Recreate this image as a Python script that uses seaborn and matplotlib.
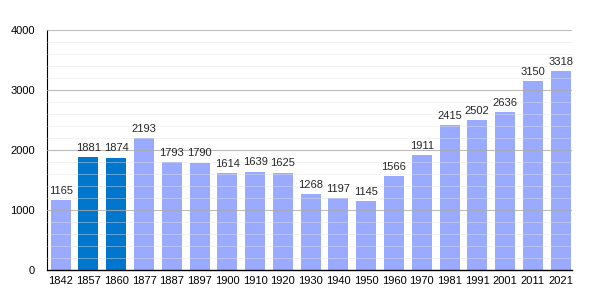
import matplotlib
matplotlib.use("Agg")
import matplotlib.pyplot as plt
import seaborn as sns
import pandas as pd
from matplotlib.ticker import MultipleLocator

years = ["1842", "1857", "1860", "1877", "1887", "1897", "1900", "1910", "1920", "1930",
         "1940", "1950", "1960", "1970", "1981", "1991", "2001", "2011", "2021"]
population = [1165, 1881, 1874, 2193, 1793, 1790, 1614, 1639, 1625, 1268,
              1197, 1145, 1566, 1911, 2415, 2502, 2636, 3150, 3318]
highlight = ["1857", "1860"]

df = pd.DataFrame({"year": years, "pop": population})
df["kind"] = ["dark" if y in highlight else "light" for y in years]

sns.set_style("white")
plt.rcParams['font.family'] = ['Liberation Sans', 'DejaVu Sans']

fig = plt.figure(figsize=(6, 3), dpi=100)
ax = fig.add_axes([47/600, 30/300, 525/600, 240/300])

sns.barplot(data=df, x="year", y="pop", hue="kind",
            palette={"dark": "#0077cc", "light": "#99aaff"},
            dodge=False, width=0.72, ax=ax, legend=False, zorder=1,
            saturation=1, linewidth=0, edgecolor="none")

ax.set_ylim(0, 4000)
ax.set_xlim(-0.493, len(years) - 1 + 0.41)
ax.yaxis.set_major_locator(MultipleLocator(1000))
ax.yaxis.set_minor_locator(MultipleLocator(200))
ax.grid(axis="y", which="major", color="#aaaaaa", linewidth=0.8, alpha=0.8, zorder=3)
ax.grid(axis="y", which="minor", color="#e2e2e2", linewidth=0.6, alpha=0.5, zorder=3)
ax.set_axisbelow(False)

for s in ["top", "right"]:
    ax.spines[s].set_visible(False)
ax.spines["left"].set_color("black")
ax.spines["bottom"].set_color("black")
ax.spines["left"].set_linewidth(0.8)
ax.spines["bottom"].set_linewidth(1.0)

ax.tick_params(axis="y", which="major", direction="inout", length=7, width=0.8,
               labelsize=8, pad=5, colors="black")
ax.tick_params(axis="y", which="minor", direction="inout", length=4, width=0.8, colors="black")
ax.tick_params(axis="x", length=0, labelsize=8, pad=4, colors="black")
ax.set_xlabel("")
ax.set_ylabel("")

for i, v in enumerate(population):
    ax.annotate(str(v), (i, v), xytext=(0, 3), textcoords="offset points",
                ha="center", va="bottom", fontsize=8, zorder=5)

fig.savefig("out.png", dpi=100)
